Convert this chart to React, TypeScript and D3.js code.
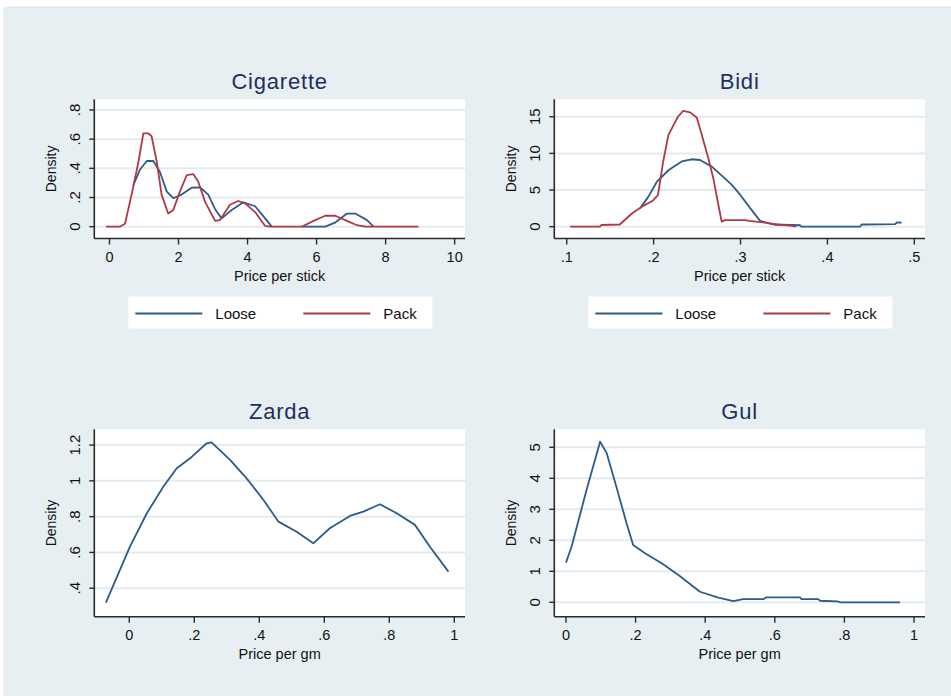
import React from "react";
import * as d3 from "d3";

// ---------- DATA ----------
type Pt = [number, number];

const cigaretteLoose: (Pt | null)[] = [
  [0.69, 0.285], [0.88, 0.39], [1.08, 0.45], [1.27, 0.45], [1.46, 0.377], [1.66, 0.24],
  [1.85, 0.195], [2.09, 0.22], [2.38, 0.267], [2.62, 0.27], [2.86, 0.22], [3.06, 0.12],
  [3.25, 0.057], [3.54, 0.114], [3.88, 0.167], [4.22, 0.14], [4.51, 0.057], [4.7, 0.0],
  null,
  [5.57, 0], [6.25, 0], [6.55, 0.03], [6.88, 0.09], [7.12, 0.09], [7.46, 0.045], [7.65, 0],
];
const cigarettePack: Pt[] = [
  [-0.1, 0], [0.3, 0], [0.45, 0.02], [0.64, 0.22], [0.84, 0.445], [0.98, 0.64], [1.12, 0.64],
  [1.22, 0.62], [1.37, 0.445], [1.51, 0.22], [1.7, 0.09], [1.85, 0.115], [2.04, 0.24],
  [2.24, 0.354], [2.43, 0.36], [2.57, 0.31], [2.77, 0.17], [3.06, 0.04], [3.2, 0.045],
  [3.49, 0.15], [3.73, 0.176], [3.93, 0.16], [4.22, 0.1], [4.51, 0.005], [4.65, 0],
  [5.57, 0], [5.91, 0.04], [6.25, 0.075], [6.54, 0.075], [6.88, 0.04], [7.17, 0.01],
  [7.41, 0], [8.95, 0],
];
const bidiLoose: Pt[] = [
  [0.1844, 2.5], [0.194, 4.1], [0.2036, 6.1], [0.217, 7.7], [0.2323, 8.9], [0.2438, 9.2],
  [0.2534, 9.1], [0.2669, 8.2], [0.28, 6.8], [0.29, 5.7], [0.3, 4.3], [0.31, 2.7],
  [0.3225, 0.8], [0.3378, 0.3], [0.3685, 0.2], [0.37, 0], [0.4375, 0], [0.4395, 0.3],
  [0.478, 0.35], [0.48, 0.6], [0.4855, 0.55],
];
const bidiPack: Pt[] = [
  [0.104, 0], [0.138, 0], [0.14, 0.23], [0.161, 0.3], [0.175, 1.8], [0.186, 2.7],
  [0.1985, 3.5], [0.205, 4.3], [0.211, 8.9], [0.217, 12.5], [0.223, 13.9], [0.228, 15.0],
  [0.234, 15.8], [0.242, 15.6], [0.2496, 14.9], [0.255, 12.7], [0.263, 9.3], [0.2687, 6.6],
  [0.2745, 3.0], [0.2783, 0.7], [0.282, 0.9], [0.305, 0.9], [0.31, 0.8], [0.326, 0.6],
  [0.3417, 0.3], [0.357, 0.15], [0.364, 0],
];
const zardaDensity: Pt[] = [
  [-0.072, 0.32], [0.002, 0.632], [0.054, 0.819], [0.105, 0.968], [0.146, 1.07],
  [0.187, 1.126], [0.238, 1.21], [0.253, 1.215], [0.31, 1.117], [0.361, 1.014],
  [0.413, 0.893], [0.459, 0.772], [0.515, 0.716], [0.566, 0.651], [0.617, 0.735],
  [0.679, 0.804], [0.72, 0.828], [0.771, 0.869], [0.823, 0.819], [0.879, 0.754],
  [0.925, 0.632], [0.982, 0.493],
];
const gulDensity: Pt[] = [
  [0.0, 1.28], [0.016, 1.79], [0.059, 3.62], [0.098, 5.18], [0.117, 4.81], [0.146, 3.68],
  [0.174, 2.55], [0.193, 1.85], [0.227, 1.58], [0.275, 1.26], [0.323, 0.88], [0.385, 0.34],
  [0.438, 0.15], [0.481, 0.04], [0.509, 0.1], [0.567, 0.1], [0.576, 0.16], [0.672, 0.16],
  [0.677, 0.1], [0.725, 0.1], [0.73, 0.05], [0.78, 0.03], [0.79, 0], [0.96, 0],
];

const cigXTicks = [0, 2, 4, 6, 8, 10];
const cigYTicks = [0, 0.2, 0.4, 0.6, 0.8];
const bidiXTicks = [0.1, 0.2, 0.3, 0.4, 0.5];
const bidiYTicks = [0, 5, 10, 15];
const gmXTicks = [0, 0.2, 0.4, 0.6, 0.8, 1];
const zardaYTicks = [0.4, 0.6, 0.8, 1, 1.2];
const gulYTicks = [0, 1, 2, 3, 4, 5];

const legendLabels = ["Loose", "Pack"];

// ---------- STYLE ----------
const FONT = "'Liberation Sans', Arial, Helvetica, sans-serif";
const BLUE = "#2d5c8a";
const RED = "#ad3a45";
const BG = "#e8eff2";
const GRID = "#e3ebef";
const AXIS = "#2a2a2a";
const TITLE = "#1f2f5c";

const fmt = (v: number) => {
  if (v === 0) return "0";
  const s = String(+v.toFixed(3));
  return s.startsWith("0.") ? s.slice(1) : s;
};

type Series = { data: (Pt | null)[]; color: string };

type PanelProps = {
  title: string;
  left: number;
  right: number;
  top: number;
  bottom: number;
  xDomain: [number, number];
  yDomain: [number, number];
  xTicks: number[];
  yTicks: number[];
  xLabel: string;
  series: Series[];
  legend?: boolean;
};

function Panel(p: PanelProps) {
  const x = d3.scaleLinear().domain(p.xDomain).range([p.left, p.right]);
  const y = d3.scaleLinear().domain(p.yDomain).range([p.bottom, p.top]);
  const line = d3
    .line<Pt | null>()
    .defined((d) => d !== null)
    .x((d) => x((d as Pt)[0]))
    .y((d) => y((d as Pt)[1]));
  const cx = (p.left + p.right) / 2;
  const legX = p.left + 34;
  const legY = p.bottom + 58;
  return (
    <g>
      <rect x={p.left} y={p.top} width={p.right - p.left} height={p.bottom - p.top} fill="#ffffff" />
      {p.yTicks.map((t) => (
        <line key={"g" + t} x1={p.left} x2={p.right} y1={y(t)} y2={y(t)} stroke={GRID} strokeWidth={2} />
      ))}
      {p.series.map((s, i) => (
        <path key={i} d={line(s.data) || ""} fill="none" stroke={s.color} strokeWidth={1.8} strokeLinejoin="round" />
      ))}
      <line x1={p.left} x2={p.left} y1={p.top} y2={p.bottom} stroke={AXIS} strokeWidth={1.6} />
      <line x1={p.left} x2={p.right} y1={p.bottom} y2={p.bottom} stroke={AXIS} strokeWidth={1.6} />
      {p.yTicks.map((t) => (
        <g key={"y" + t}>
          <line x1={p.left - 5} x2={p.left} y1={y(t)} y2={y(t)} stroke={AXIS} strokeWidth={1.4} />
          <text
            transform={`translate(${p.left - 20},${y(t)}) rotate(-90)`}
            textAnchor="middle"
            dominantBaseline="central"
            fontSize={15}
            fontFamily={FONT}
            fill="#111"
          >
            {fmt(t)}
          </text>
        </g>
      ))}
      {p.xTicks.map((t) => (
        <g key={"x" + t}>
          <line x1={x(t)} x2={x(t)} y1={p.bottom} y2={p.bottom + 6} stroke={AXIS} strokeWidth={1.4} />
          <text x={x(t)} y={p.bottom + 23.5} textAnchor="middle" fontSize={14.5} fontFamily={FONT} fill="#111">
            {fmt(t)}
          </text>
        </g>
      ))}
      <text
        transform={`translate(${p.left - 43},${(p.top + p.bottom) / 2}) rotate(-90)`}
        textAnchor="middle"
        dominantBaseline="central"
        fontSize={14}
        fontFamily={FONT}
        fill="#111"
      >
        Density
      </text>
      <text x={cx} y={p.bottom + 42} textAnchor="middle" fontSize={14.5} fontFamily={FONT} fill="#111">
        {p.xLabel}
      </text>
      <text x={cx} y={p.top - 10} textAnchor="middle" fontSize={22} fontFamily={FONT} fill={TITLE} letterSpacing={0.8}>
        {p.title}
      </text>
      {p.legend && (
        <g>
          <rect x={legX} y={legY} width={304} height={32} fill="#ffffff" />
          {p.series.map((s, i) => (
            <g key={"l" + i}>
              <line
                x1={legX + 7 + i * 168}
                x2={legX + 74 + i * 168}
                y1={legY + 17}
                y2={legY + 17}
                stroke={s.color}
                strokeWidth={1.8}
              />
              <text x={legX + 87 + i * 168} y={legY + 22} fontSize={15} fontFamily={FONT} fill="#111">
                {legendLabels[i]}
              </text>
            </g>
          ))}
        </g>
      )}
    </g>
  );
}

export default function App() {
  return (
    <div style={{ position: "absolute", left: 0, top: 0 }}>
      <svg width={951} height={696} style={{ display: "block" }}>
        <rect x={0} y={0} width={951} height={696} fill="#ffffff" />
        <rect x={4} y={7} width={960} height={700} rx={3} fill={BG} stroke="#e0e8ec" />
        <Panel
          title="Cigarette"
          left={94.3}
          right={465}
          top={99.3}
          bottom={238.5}
          xDomain={[-0.44, 10.3]}
          yDomain={[-0.081, 0.873]}
          xTicks={cigXTicks}
          yTicks={cigYTicks}
          xLabel="Price per stick"
          series={[
            { data: cigaretteLoose, color: BLUE },
            { data: cigarettePack, color: RED },
          ]}
          legend
        />
        <Panel
          title="Bidi"
          left={554.3}
          right={925}
          top={99.3}
          bottom={238.5}
          xDomain={[0.0857, 0.5123]}
          yDomain={[-1.61, 17.38]}
          xTicks={bidiXTicks}
          yTicks={bidiYTicks}
          xLabel="Price per stick"
          series={[
            { data: bidiLoose, color: BLUE },
            { data: bidiPack, color: RED },
          ]}
          legend
        />
        <Panel
          title="Zarda"
          left={94.3}
          right={465}
          top={429.3}
          bottom={616.7}
          xDomain={[-0.1077, 1.033]}
          yDomain={[0.241, 1.288]}
          xTicks={gmXTicks}
          yTicks={zardaYTicks}
          xLabel="Price per gm"
          series={[{ data: zardaDensity, color: BLUE }]}
        />
        <Panel
          title="Gul"
          left={554.3}
          right={925}
          top={429.3}
          bottom={616.7}
          xDomain={[-0.0336, 1.0316]}
          yDomain={[-0.465, 5.58]}
          xTicks={gmXTicks}
          yTicks={gulYTicks}
          xLabel="Price per gm"
          series={[{ data: gulDensity, color: BLUE }]}
        />
      </svg>
    </div>
  );
}
